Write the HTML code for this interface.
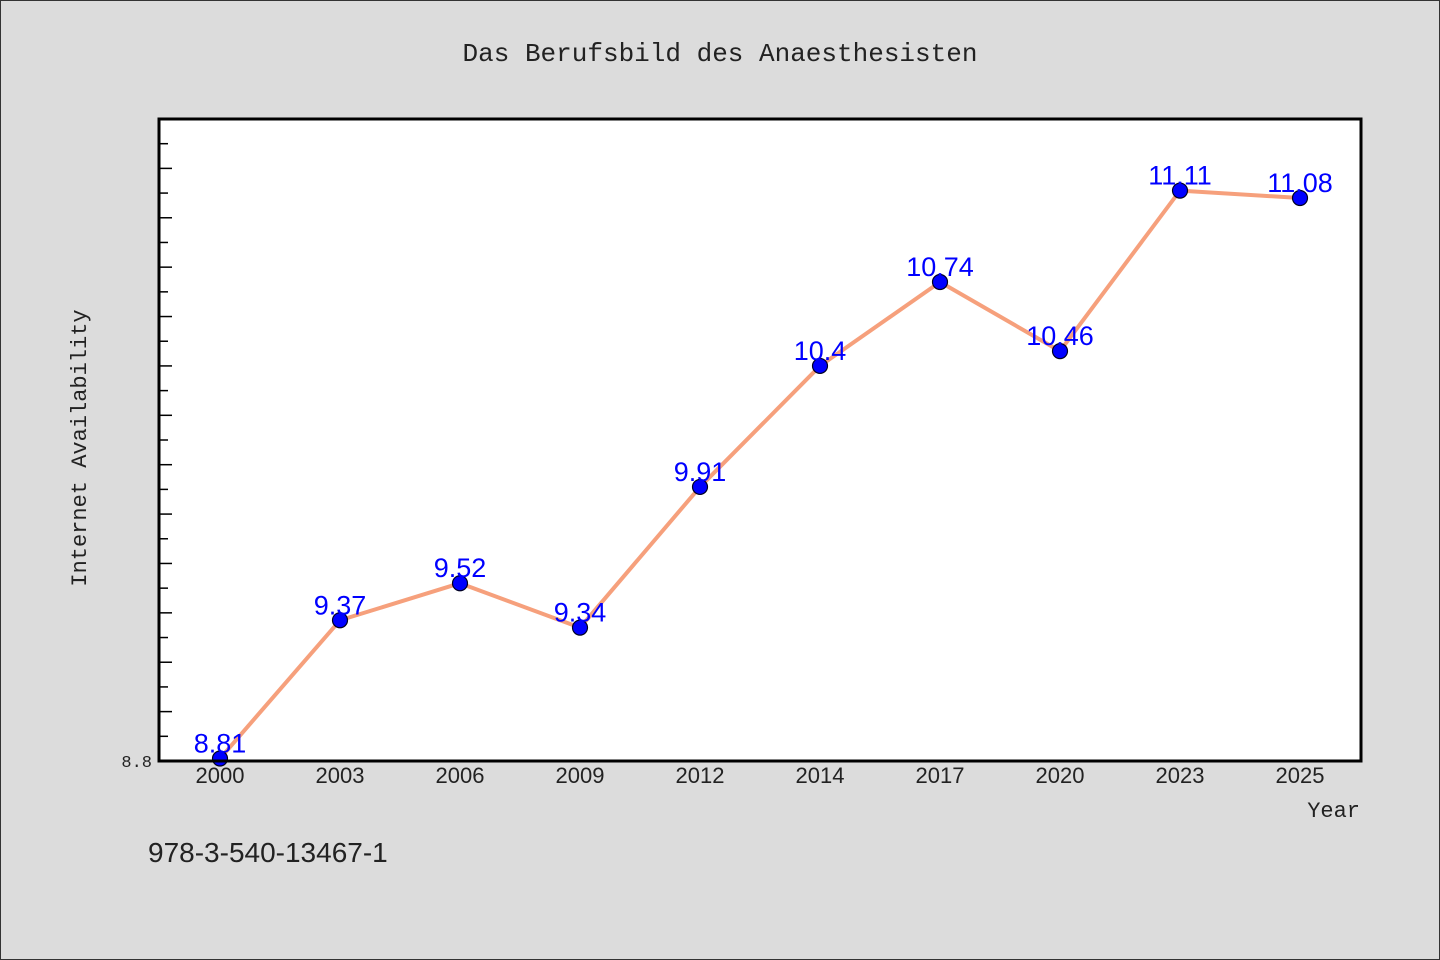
<!DOCTYPE html>
<html><head><meta charset="utf-8"><style>
html,body{margin:0;padding:0;background:#dcdcdc;}
svg{display:block;font-family:"Liberation Mono","Noto Sans CJK SC",monospace;}
</style></head><body>
<svg width="1440" height="960" viewBox="0 0 1440 960">
<rect x="0.5" y="0.5" width="1439" height="959" fill="#dcdcdc" stroke="#333" stroke-width="1"/>
<text x="720" y="61" text-anchor="middle" font-size="26" fill="#222">Das Berufsbild des Anaesthesisten</text>
<rect x="159" y="119" width="1202" height="642" fill="#fff"/>
<g id="ticks"></g>
<g id="series"></g>
<rect x="159" y="119" width="1202" height="642" fill="none" stroke="#000" stroke-width="3"/>
<g id="xlabels"></g>
<text x="152" y="767" text-anchor="end" font-size="17" fill="#222">8.8</text>
<text x="1360" y="817" text-anchor="end" font-size="22" fill="#222">Year</text>
<text x="86" y="448" text-anchor="middle" font-size="22" fill="#222" transform="rotate(-90 86 448)">Internet Availability</text>
<text x="148" y="862" font-size="28" fill="#222" font-family="Liberation Sans, sans-serif">978-3-540-13467-1</text>
</svg>
<script>
const categories = ["2000","2003","2006","2009","2012","2014","2017","2020","2023","2025"];
const values = [8.81, 9.37, 9.52, 9.34, 9.91, 10.4, 10.74, 10.46, 11.11, 11.08];
const labels = ["8.81","9.37","9.52","9.34","9.91","10.4","10.74","10.46","11.11","11.08"];
const yMin = 8.8, yMax = 11.4;
const NS = "http://www.w3.org/2000/svg";
const x = i => 220 + i * 120;
const y = v => 761 - (v - yMin) / (yMax - yMin) * 642;
function mk(tag, attrs, parent){const e=document.createElementNS(NS,tag);for(const k in attrs)e.setAttribute(k,attrs[k]);parent.appendChild(e);return e;}
const ticks = document.getElementById('ticks');
for (let k = 1; k <= 25; k++) {
  const v = yMin + k * 0.1;
  const long = (Math.round(v * 10) % 2 === 0);
  const t = mk('line', {x1:159, x2: long ? 172 : 168, y1: y(v), y2: y(v), stroke:'#000', 'stroke-width':1.5}, ticks);
  
  
}
const series = document.getElementById('series');
const pl = mk('polyline', {points: values.map((v,i)=>x(i)+','+y(v)).join(' '), fill:'none', stroke:'#f6a07c', 'stroke-width':4, 'stroke-linejoin':'round'}, series);


values.forEach((v,i)=>{
  const c = mk('circle', {cx:x(i), cy:y(v), r:7.5, fill:'#0000ff', stroke:'#000022', 'stroke-width':1.2}, series);
  
  
  const t = mk('text', {x:x(i), y:y(v)-6, 'text-anchor':'middle', 'font-size':27, fill:'#0000ff', 'font-family':'Liberation Sans, sans-serif'}, series);
  t.textContent = labels[i];
  
  
});
const xl = document.getElementById('xlabels');
categories.forEach((c,i)=>{
  const t = mk('text', {x:x(i), y:783, 'text-anchor':'middle', 'font-size':22, fill:'#222', 'font-family':'Liberation Sans, sans-serif'}, xl);
  t.textContent = c;
  
  
});
</script>
</body></html>
